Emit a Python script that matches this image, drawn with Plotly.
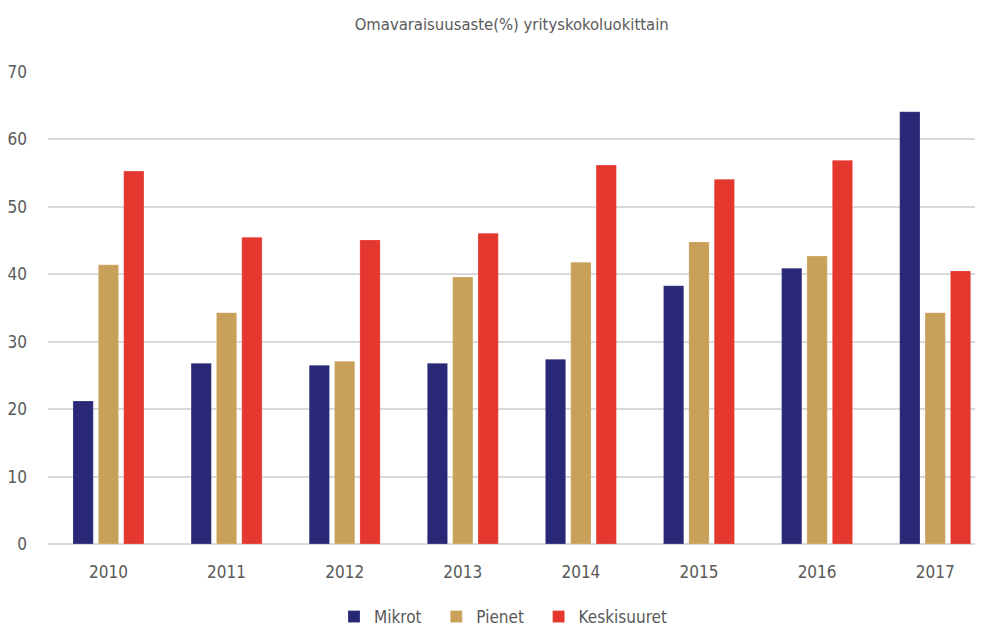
import plotly.graph_objects as go

years = ["2010", "2011", "2012", "2013", "2014", "2015", "2016", "2017"]
mikrot = [21.2, 26.8, 26.5, 26.8, 27.4, 38.3, 40.9, 64.1]
pienet = [41.4, 34.3, 27.1, 39.6, 41.8, 44.8, 42.7, 34.3]
keskisuuret = [55.3, 45.5, 45.1, 46.1, 56.2, 54.1, 56.9, 40.5]

series = [
    ("Mikrot", mikrot, "#292877"),
    ("Pienet", pienet, "#C9A05A"),
    ("Keskisuuret", keskisuuret, "#E4382F"),
]

font_family = "DejaVu Sans Condensed, Roboto, sans-serif"
text_color = "#595959"

fig = go.Figure()
for name, vals, color in series:
    fig.add_trace(
        go.Bar(
            x=years,
            y=vals,
            # a little padding after each name widens the legend spacing
            name=name + "\u00a0\u00a0",
            marker=dict(color=color, line=dict(color="rgba(255,255,255,0.4)", width=0.5)),
        )
    )

fig.update_layout(
    width=984,
    height=626,
    paper_bgcolor="white",
    plot_bgcolor="white",
    font=dict(family=font_family, color=text_color, size=17),
    title=dict(
        text="Omavaraisuusaste(%) yrityskokoluokittain",
        x=0.52,
        xanchor="center",
        xref="container",
        yref="container",
        y=1 - 24 / 626,
        yanchor="middle",
        font=dict(size=16.5, color=text_color),
    ),
    margin=dict(l=48, r=9, t=72, b=82, autoexpand=False),
    bargap=0.356,
    bargroupgap=0.2,
    showlegend=True,
    legend=dict(
        orientation="h",
        xref="container",
        yref="container",
        x=334 / 984,
        xanchor="left",
        y=1 - 617 / 626,
        yanchor="middle",
        font=dict(size=17, color=text_color),
        itemwidth=30,
    ),
    xaxis=dict(
        # category bands are a bit wider than the gridded area
        range=[-0.512, 7.337],
        showgrid=False,
        showline=False,
        ticks="",
        automargin=False,
        ticklabelstandoff=16,
        tickfont=dict(size=17, color=text_color),
    ),
    yaxis=dict(
        range=[0, 70],
        dtick=10,
        showgrid=True,
        gridcolor="#D9D9D9",
        gridwidth=1.5,
        zeroline=True,
        zerolinecolor="#D9D9D9",
        zerolinewidth=1.5,
        ticks="",
        automargin=False,
        ticklabelstandoff=20,
        tickfont=dict(size=17, color=text_color),
    ),
)

# page body has a default 8px margin; drop it so the figure sits at the corner
fig.write_html(
    "out.html",
    config={"displayModeBar": False},
    post_script="document.body.style.margin='0';",
)
